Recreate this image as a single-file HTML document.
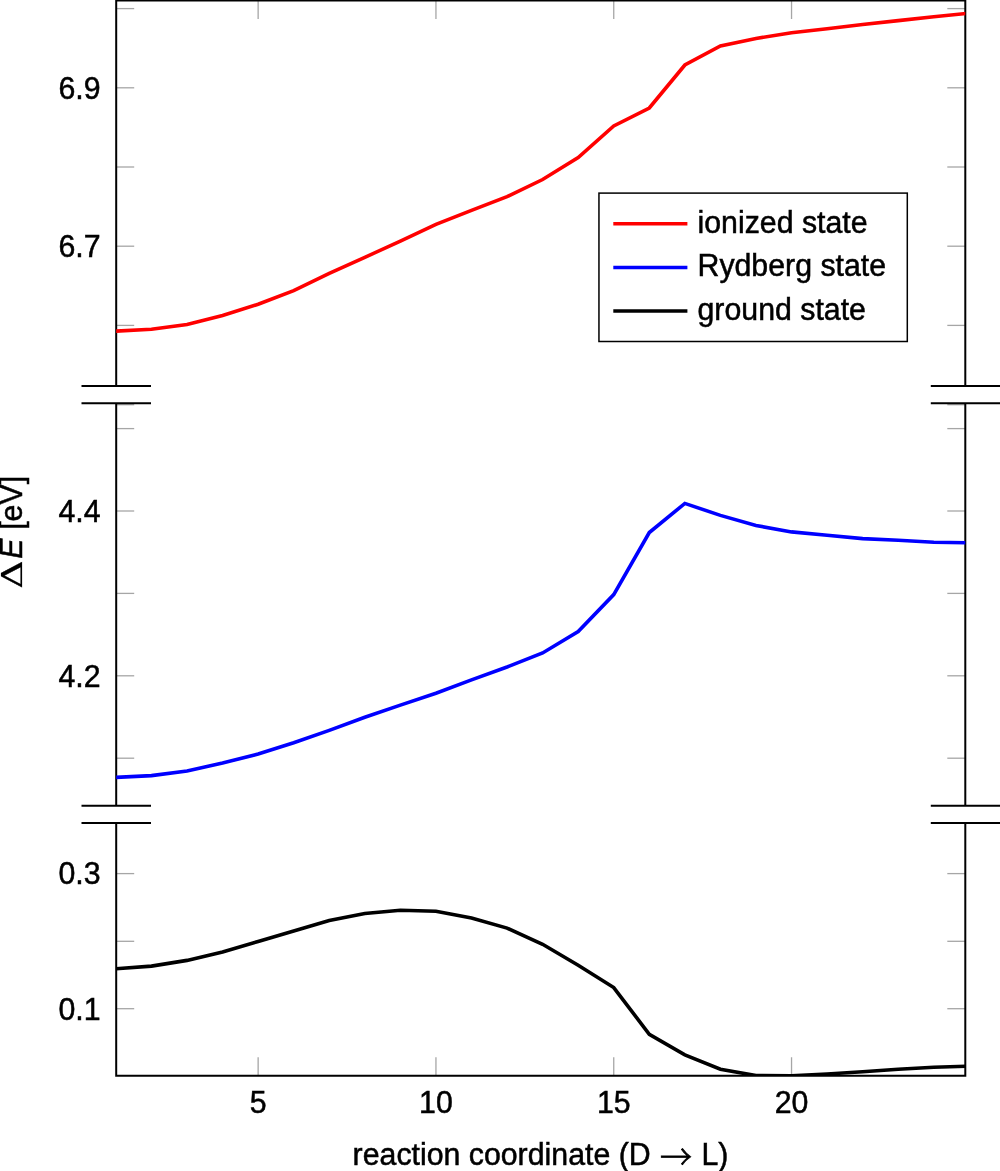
<!DOCTYPE html>
<html><head><meta charset="utf-8"><title>plot</title>
<style>
html,body{margin:0;padding:0;background:#fff;}
svg{display:block;}
text{font-family:"Liberation Sans",sans-serif;font-size:30.3px;fill:#000;stroke:#000;stroke-width:0.5px;}
</style></head>
<body>
<svg width="1000" height="1171" viewBox="0 0 1000 1171">
<rect width="1000" height="1171" fill="#fff"/>
<g stroke="#a6a6a6" stroke-width="1.3" fill="none">
<line x1="116.2" y1="8.6" x2="134.2" y2="8.6"/><line x1="965.3" y1="8.6" x2="947.3" y2="8.6"/>
<line x1="116.2" y1="87.8" x2="134.2" y2="87.8"/><line x1="965.3" y1="87.8" x2="947.3" y2="87.8"/>
<line x1="116.2" y1="167.0" x2="134.2" y2="167.0"/><line x1="965.3" y1="167.0" x2="947.3" y2="167.0"/>
<line x1="116.2" y1="246.2" x2="134.2" y2="246.2"/><line x1="965.3" y1="246.2" x2="947.3" y2="246.2"/>
<line x1="116.2" y1="325.4" x2="134.2" y2="325.4"/><line x1="965.3" y1="325.4" x2="947.3" y2="325.4"/>
<line x1="116.2" y1="404.7" x2="134.2" y2="404.7"/><line x1="965.3" y1="404.7" x2="947.3" y2="404.7"/>
<line x1="116.2" y1="428.6" x2="134.2" y2="428.6"/><line x1="965.3" y1="428.6" x2="947.3" y2="428.6"/>
<line x1="116.2" y1="511" x2="134.2" y2="511"/><line x1="965.3" y1="511" x2="947.3" y2="511"/>
<line x1="116.2" y1="593.4" x2="134.2" y2="593.4"/><line x1="965.3" y1="593.4" x2="947.3" y2="593.4"/>
<line x1="116.2" y1="675.8" x2="134.2" y2="675.8"/><line x1="965.3" y1="675.8" x2="947.3" y2="675.8"/>
<line x1="116.2" y1="758.2" x2="134.2" y2="758.2"/><line x1="965.3" y1="758.2" x2="947.3" y2="758.2"/>
<line x1="116.2" y1="873.6" x2="134.2" y2="873.6"/><line x1="965.3" y1="873.6" x2="947.3" y2="873.6"/>
<line x1="116.2" y1="941.3" x2="134.2" y2="941.3"/><line x1="965.3" y1="941.3" x2="947.3" y2="941.3"/>
<line x1="116.2" y1="1008.7" x2="134.2" y2="1008.7"/><line x1="965.3" y1="1008.7" x2="947.3" y2="1008.7"/>
<line x1="258.14" y1="0.5" x2="258.14" y2="19.0"/><line x1="258.14" y1="1075.75" x2="258.14" y2="1057.25"/>
<line x1="435.94000000000005" y1="0.5" x2="435.94000000000005" y2="19.0"/><line x1="435.94000000000005" y1="1075.75" x2="435.94000000000005" y2="1057.25"/>
<line x1="613.74" y1="0.5" x2="613.74" y2="19.0"/><line x1="613.74" y1="1075.75" x2="613.74" y2="1057.25"/>
<line x1="791.5400000000001" y1="0.5" x2="791.5400000000001" y2="19.0"/><line x1="791.5400000000001" y1="1075.75" x2="791.5400000000001" y2="1057.25"/>
</g>
<g stroke="#000" stroke-width="2" fill="none">
<path d="M116.2,386 V0.5 H965.3 V386 M116.2,403.3 V805.7 M965.3,403.3 V805.7 M116.2,823 V1075.75 H965.3 V823"/>
<path d="M81.5,386 H151 M81.5,403.3 H151 M81.5,805.7 H151 M81.5,823 H151"/>
<path d="M930.8,386 H1001 M930.8,403.3 H1001 M930.8,805.7 H1001 M930.8,823 H1001"/>
</g>
<clipPath id="pc"><rect x="116.2" y="0" width="849.0999999999999" height="1075.75"/></clipPath>
<g fill="none" stroke-width="3.6" stroke-linejoin="miter" clip-path="url(#pc)">
<polyline stroke="#ff0000" points="115.90,331.1 151.46,329.3 187.02,324.5 222.58,315.5 258.14,304.3 293.70,290.7 329.26,273.3 364.82,257.3 400.38,241.1 435.94,224.4 471.50,210.4 507.06,196.7 542.62,179.5 578.18,157.5 613.74,126.0 649.30,108.0 684.86,65.0 720.42,45.9 755.98,38.5 791.54,32.7 827.10,28.7 862.66,24.5 898.22,20.6 933.78,16.7 969.34,13.1"/>
<polyline stroke="#0000ff" points="115.90,777.4 151.46,775.6 187.02,771.1 222.58,763.0 258.14,754.0 293.70,742.8 329.26,730.4 364.82,717.2 400.38,705.1 435.94,693.2 471.50,679.9 507.06,667.0 542.62,653.0 578.18,631.5 613.74,594.6 649.30,532.5 684.86,503.4 720.42,515.4 755.98,525.5 791.54,531.9 827.10,535.2 862.66,538.6 898.22,540.2 933.78,542.2 969.34,542.8"/>
<polyline stroke="#000000" points="115.90,968.8 151.46,966.1 187.02,960.4 222.58,952.0 258.14,941.5 293.70,930.9 329.26,920.4 364.82,913.5 400.38,910.3 435.94,911.2 471.50,917.9 507.06,928.1 542.62,944.3 578.18,965.2 613.74,987.6 649.30,1034.3 684.86,1054.8 720.42,1069.2 755.98,1075.6 791.54,1075.9 827.10,1074.0 862.66,1071.7 898.22,1069.3 933.78,1067.3 969.34,1066.1"/>
</g>
<g>
<text transform="translate(100.6,98.6) scale(1,1.025)" text-anchor="end">6.9</text>
<text transform="translate(100.6,257.0) scale(1,1.025)" text-anchor="end">6.7</text>
<text transform="translate(100.6,521.8) scale(1,1.025)" text-anchor="end">4.4</text>
<text transform="translate(100.6,686.6) scale(1,1.025)" text-anchor="end">4.2</text>
<text transform="translate(100.6,884.4) scale(1,1.025)" text-anchor="end">0.3</text>
<text transform="translate(100.6,1019.5) scale(1,1.025)" text-anchor="end">0.1</text>
<text transform="translate(258.14,1113) scale(1,1.025)" text-anchor="middle">5</text>
<text transform="translate(435.94,1113) scale(1,1.025)" text-anchor="middle">10</text>
<text transform="translate(613.74,1113) scale(1,1.025)" text-anchor="middle">15</text>
<text transform="translate(791.54,1113) scale(1,1.025)" text-anchor="middle">20</text>
</g>
<text transform="translate(352.6,1164.7) scale(1,1.025)">reaction coordinate (D <tspan x="307.3" dy="4.2" style="font-family:'Noto Serif CJK SC',serif;font-size:32px;stroke-width:0.8px">→</tspan> <tspan x="348.9" dy="-4.2">L)</tspan></text>
<text transform="translate(22.4,587) rotate(-90) scale(1,1.025)"><tspan x="-1.8" textLength="28.4" lengthAdjust="spacingAndGlyphs" style="font-family:'DejaVu Serif',serif;font-size:28px;stroke-width:0.2px">Δ</tspan><tspan x="28.3" font-style="italic">E</tspan><tspan x="48.8"> [eV]</tspan></text>
<rect x="598.95" y="193.1" width="308.35" height="148.4" fill="#fff" stroke="#000" stroke-width="1.5"/>
<g stroke-width="3.4">
<line x1="613.3" y1="223.8" x2="687.4" y2="223.8" stroke="#ff0000"/>
<line x1="613.3" y1="267.5" x2="687.4" y2="267.5" stroke="#0000ff"/>
<line x1="613.3" y1="311" x2="687.4" y2="311" stroke="#000"/>
</g>
<text transform="translate(697.5,232.7) scale(1,1.025)">ionized state</text>
<text transform="translate(697.5,276.3) scale(1,1.025)">Rydberg state</text>
<text transform="translate(697.5,319.9) scale(1,1.025)">ground state</text>
</svg>
</body></html>
